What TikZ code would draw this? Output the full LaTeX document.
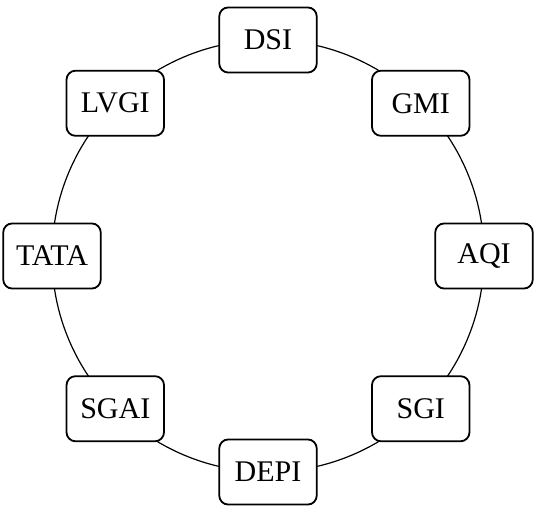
\documentclass[tikz,border=0pt]{standalone}
\usepackage{fontspec}
\setmainfont{Liberation Serif}
\usetikzlibrary{positioning}

\begin{document}
\begin{tikzpicture}[
    index/.style={draw, fill=white, rounded corners=3pt, semithick, align=center, minimum height=21.7pt, minimum width=32.5pt}
  ]
    \useasboundingbox (-89.33pt,-85.67pt) rectangle (89pt,85.33pt);
    \draw (0,0) circle (72pt);

    \node[index] (dsi)  at (90:72pt)   {DSI};
    \node[index] (gmi)  at (45:72pt)   {GMI};
    \node[index] (aqi)  at (0:72pt)    {AQI};
    \node[index] (sgi)  at (-45:72pt)  {SGI};
    \node[index] (depi) at (-90:72pt)  {DEPI};
    \node[index] (sgai) at (-135:72pt) {SGAI};
    \node[index] (tata) at (180:72pt)  {TATA};
    \node[index] (lvgi) at (135:72pt)  {LVGI};
  \end{tikzpicture}
\end{document}
